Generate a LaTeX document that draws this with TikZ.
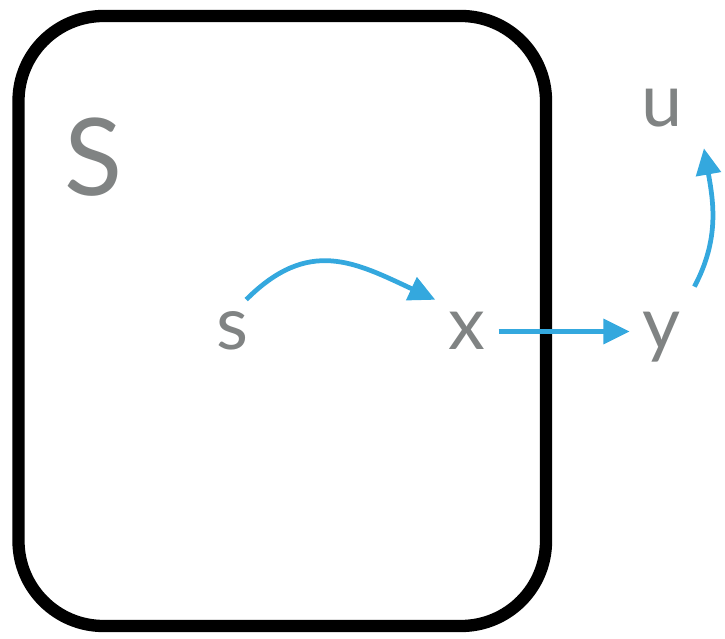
\documentclass[tikz,border=0pt]{standalone}
\usepackage{fontspec}
\setmainfont{Lato}
\usetikzlibrary{arrows.meta}
\definecolor{lettergray}{RGB}{128,131,131}
\definecolor{flowblue}{RGB}{52,168,222}

\begin{document}
\begin{tikzpicture}[
  letter/.style={text=lettergray, font=\fontsize{42}{42}\selectfont,
    inner sep=0.26cm, text height=0.74cm, text depth=0pt, anchor=base},
  flow/.style={draw=flowblue, line width=2.7pt,
    -{Triangle[length=15pt, width=14pt]}},
]
\useasboundingbox (0,0) rectangle (14.5,12.76);
% the set S
\draw[line width=7pt, rounded corners=1.7cm] (0.37,0.24) rectangle (10.92,12.44);
\node[letter, font=\fontsize{61}{61}\selectfont, text height=1.5cm] (Sset) at (1.88,8.84) {S};

\node[letter] (s) at (4.64,5.76) {s};
\node[letter] (x) at (9.34,5.76) {x};
\node[letter] (y) at (13.24,5.76) {y};
\node[letter] (u) at (13.24,10.22) {u};

\draw[flow] (s.66) to[out=45, in=155, looseness=1.2] (x.135);
\draw[flow] (x) -- (y);
\draw[flow] ([yshift=0.26cm]y.north east) to[out=62, in=-80]
  ([shift={(0.16,-0.16)}]u.south east);
\end{tikzpicture}
\end{document}
